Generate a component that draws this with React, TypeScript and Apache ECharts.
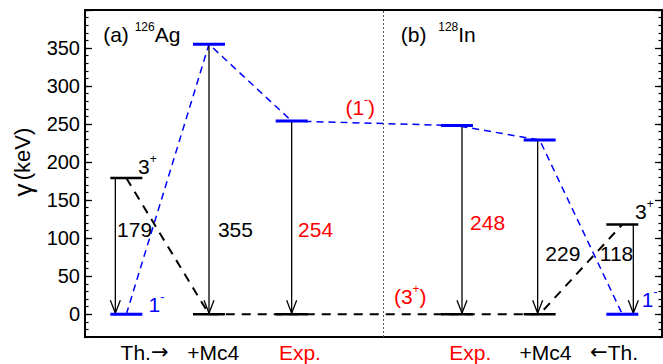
import React, { useEffect, useRef } from 'react';
import * as echarts from 'echarts';

// ---------- data ----------
const columnLabels = ['{n|Th.}{a|\u2192}', '{n|+Mc4}', '{n|Exp.}', '{n|Exp.}', '{n|+Mc4}', '{a|\u2190}{n|Th.}'];
const columnPos = [1, 2, 3, 5, 6, 7];
const levelOneMinus = [0, 355, 254, 248, 229, 0];
const levelThreePlus = [179, 0, 0, 0, 0, 118];
const gammaEnergies = [179, 355, 254, 248, 229, 118];
const isExperiment = [false, false, true, true, false, false];
const yMajorInterval = 50;
const yMinorInterval = 10;
const yMin = -30;
const yMax = 400;

// ---------- layout / style ----------
const W = 663;
const H = 364;
const FONT = "'Liberation Sans', Arial, sans-serif";
const BLUE = '#0000ff';
const RED = '#ff0000';
const BLACK = '#000000';
const GRID = { left: 85, right: 1, top: 10, bottom: 27 };
const plotH = H - GRID.top - GRID.bottom;
const zeroPx = GRID.top + (yMax / (yMax - yMin)) * plotH;
const X_MIN = 0.5;
const X_MAX = 7.48;
const SEPARATOR_X = 4.11;
const LEVEL_HALF = 16;
const ARROW_OFFSETS = [-11, 0, 0, 5, -2, 11];
const columnLabelX = [1.22, 2.05, 3.1, 5.16, 6.07, 6.9];
const columnLabelY = -50;
const gammaLabelPos = [
  [1.1, 113],
  [2.32, 113],
  [3.29, 113],
  [5.37, 122],
  [6.28, 82],
  [6.93, 82],
];

const rich = (color: string) => ({
  n: { fontSize: 21, fontFamily: FONT, color, verticalAlign: 'bottom', lineHeight: 24 },
  s: { fontSize: 12, fontFamily: FONT, color, verticalAlign: 'top', lineHeight: 24, padding: [0, 0, 10, 0] },
});

const bottomRich = (color: string) => ({
  n: { fontSize: 21, fontFamily: FONT, color, lineHeight: 20, verticalAlign: 'middle' },
  a: { fontSize: 21, fontFamily: "'DejaVu Sans', sans-serif", color, lineHeight: 20, verticalAlign: 'middle' },
});

const annotations: { text: string; at: number[]; color: string; bottom?: boolean }[] = [
  { text: '{n|(a) }{s|126}{n|Ag}', at: [1.187, 369.5], color: BLACK },
  { text: '{n|(b)  }{s|128}{n|In}', at: [4.774, 369.5], color: BLACK },
  { text: '{n|3}{s|+}', at: [1.254, 196], color: BLACK },
  { text: '{n|1}{s|-}', at: [1.363, 15], color: BLUE },
  { text: '{n|3}{s|+}', at: [7.266, 137], color: BLACK },
  { text: '{n|1}{s|-}', at: [7.33, 21], color: BLUE },
  { text: '{n|(1}{s|-}{n|)}', at: [3.83, 274], color: RED },
  { text: '{n|(3}{s|+}{n|)}', at: [4.435, 25], color: RED },
  ...gammaEnergies.map((e, i) => ({
    text: `{n|${e}}`,
    at: gammaLabelPos[i],
    color: isExperiment[i] ? RED : BLACK,
  })),
  ...columnLabels.map((t, i) => ({
    text: t,
    at: [columnLabelX[i], columnLabelY],
    color: isExperiment[i] ? RED : BLACK,
    bottom: true,
  })),
];

function buildOption(): echarts.EChartsOption {
  const levelData = columnPos.flatMap((x, i) => [
    [x, levelOneMinus[i], 0],
    [x, levelThreePlus[i], 1],
  ]);
  const arrowData = columnPos.map((x, i) => [x, gammaEnergies[i], i]);

  const minorAxis = (position: 'left' | 'right') => ({
    gridIndex: 0,
    type: 'value' as const,
    position,
    min: yMin,
    max: yMax,
    interval: yMinorInterval,
    axisLine: { show: false },
    axisTick: { show: true, inside: true, length: 3.5, lineStyle: { color: BLACK, width: 1.2 } },
    axisLabel: { show: false },
    splitLine: { show: false },
  });

  return {
    animation: false,
    backgroundColor: '#ffffff',
    grid: [
      {
        left: GRID.left,
        right: GRID.right,
        top: GRID.top,
        bottom: GRID.bottom,
        show: true,
        borderColor: BLACK,
        borderWidth: 2,
        backgroundColor: 'transparent',
      },
      { left: GRID.left, right: GRID.right, top: GRID.top, bottom: H - zeroPx },
    ],
    xAxis: [
      {
        gridIndex: 0,
        type: 'value',
        min: X_MIN,
        max: X_MAX,
        axisLine: { show: false },
        axisTick: { show: false },
        axisLabel: { show: false },
        splitLine: { show: false },
      },
      { gridIndex: 1, type: 'value', min: 0, max: 1, show: false },
    ],
    yAxis: [
      minorAxis('left'),
      minorAxis('right'),
      {
        gridIndex: 1,
        type: 'value',
        position: 'left',
        min: 0,
        max: yMax,
        interval: yMajorInterval,
        axisLine: { show: false },
        axisTick: { show: true, inside: true, length: 7, lineStyle: { color: BLACK, width: 1.3 } },
        axisLabel: {
          show: true,
          formatter: (v: number) => (v >= yMax ? '' : String(v)),
          fontSize: 20,
          fontFamily: FONT,
          color: BLACK,
          margin: 5,
        },
        splitLine: { show: false },
        name: '{g|\u03b3} {k|(keV)}',
        nameLocation: 'middle',
        nameGap: 47,
        nameRotate: 90,
        nameTextStyle: {
          color: BLACK,
          fontFamily: FONT,
          rich: {
            g: { fontSize: 26, fontFamily: FONT, color: BLACK },
            k: { fontSize: 22, fontFamily: FONT, color: BLACK },
          },
        },
      },
      {
        gridIndex: 1,
        type: 'value',
        position: 'right',
        min: 0,
        max: yMax,
        interval: yMajorInterval,
        axisLine: { show: false },
        axisTick: { show: true, inside: true, length: 7, lineStyle: { color: BLACK, width: 1.3 } },
        axisLabel: { show: false },
        splitLine: { show: false },
      },
    ],
    series: [
      {
        type: 'line',
        xAxisIndex: 0,
        yAxisIndex: 0,
        data: columnPos.map((x, i) => [x, levelOneMinus[i]]),
        symbol: 'none',
        lineStyle: { color: BLUE, width: 1.5, type: [7, 5] },
        z: 2,
        silent: true,
      },
      {
        type: 'line',
        xAxisIndex: 0,
        yAxisIndex: 0,
        data: columnPos.map((x, i) => [x, levelThreePlus[i]]),
        symbol: 'none',
        lineStyle: { color: BLACK, width: 2, type: [9, 7] },
        z: 2,
        silent: true,
        markLine: {
          silent: true,
          symbol: ['none', 'none'],
          label: { show: false },
          lineStyle: { color: '#555555', type: [2, 2], width: 1 },
          data: [{ xAxis: SEPARATOR_X }],
        },
      },
      {
        type: 'custom',
        xAxisIndex: 0,
        yAxisIndex: 0,
        data: arrowData,
        z: 4,
        silent: true,
        renderItem: (params: any, api: any) => {
          const top = api.coord([api.value(0), api.value(1)]);
          const bot = api.coord([api.value(0), 0]);
          const x = top[0] + ARROW_OFFSETS[api.value(2)];
          const tip = bot[1] - 1;
          return {
            type: 'group',
            children: [
              {
                type: 'line',
                shape: { x1: x, y1: top[1], x2: x, y2: tip },
                style: { stroke: BLACK, lineWidth: 1.3 },
              },
              {
                type: 'polyline',
                shape: { points: [[x - 5, tip - 13], [x, tip], [x + 5, tip - 13]] },
                style: { stroke: BLACK, lineWidth: 1.3, fill: 'none' },
              },
            ],
          };
        },
      },
      {
        type: 'custom',
        xAxisIndex: 0,
        yAxisIndex: 0,
        data: levelData,
        z: 5,
        silent: true,
        renderItem: (params: any, api: any) => {
          const p = api.coord([api.value(0), api.value(1)]);
          const blue = api.value(2) === 0;
          return {
            type: 'line',
            shape: { x1: p[0] - LEVEL_HALF, y1: p[1], x2: p[0] + LEVEL_HALF, y2: p[1] },
            style: { stroke: blue ? BLUE : BLACK, lineWidth: blue ? 3 : 2.5 },
          };
        },
      },
      {
        type: 'scatter',
        xAxisIndex: 0,
        yAxisIndex: 0,
        symbolSize: 0,
        clip: false,
        silent: true,
        z: 10,
        itemStyle: { opacity: 1 },
        data: annotations.map((a) => ({
          value: a.at,
          itemStyle: { opacity: 1 },
          label: {
            show: true,
            position: 'inside',
            formatter: a.text,
            color: a.color,
            opacity: 1,
            fontFamily: FONT,
            fontSize: 21,
            rich: a.bottom ? bottomRich(a.color) : rich(a.color),
          },
        })),
      },
    ],
  } as any;
}

export default function App() {
  const ref = useRef<HTMLDivElement>(null);
  useEffect(() => {
    if (!ref.current) return;
    const chart = echarts.init(ref.current, undefined, { renderer: 'svg' });
    chart.setOption(buildOption());
    return () => chart.dispose();
  }, []);
  return (
    <div
      ref={ref}
      style={{ position: 'fixed', left: 0, top: 0, width: W, height: H, background: '#fff' }}
    />
  );
}
